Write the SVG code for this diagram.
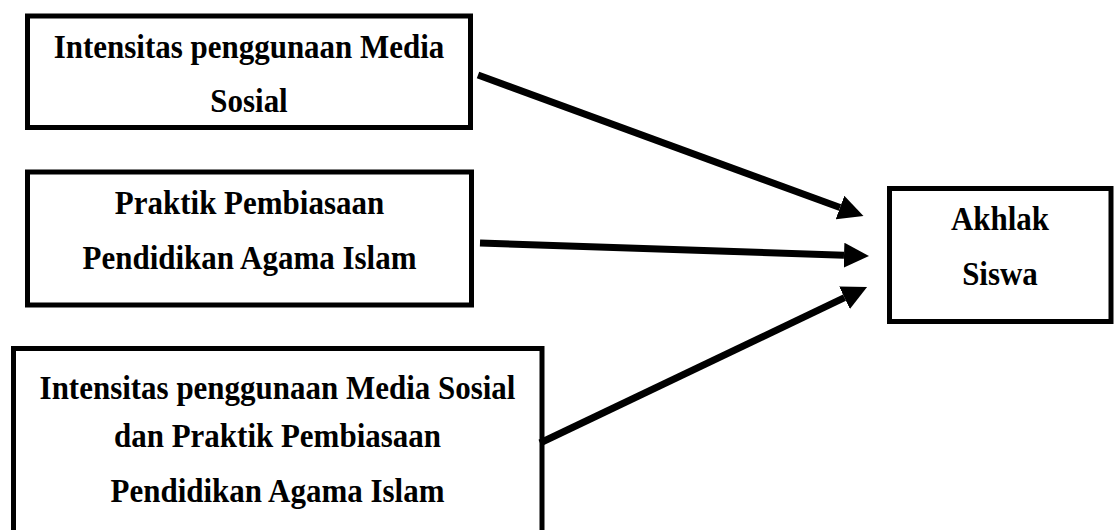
<svg xmlns="http://www.w3.org/2000/svg" width="1114" height="530" viewBox="0 0 1114 530">
  <style>
    .box { fill: #ffffff; stroke: #000000; stroke-width: 5; }
    .lbl { font-family: "Liberation Serif", "Times New Roman", serif; font-weight: bold; font-size: 33.5px; fill: #000000; text-anchor: middle; }
    .conn { stroke: #000000; stroke-width: 7; fill: none; marker-end: url(#head); }
  </style>
  <defs>
    <marker id="head" markerUnits="userSpaceOnUse" markerWidth="25" markerHeight="25" refX="0" refY="12.5" orient="auto">
      <path d="M0,0 L25,12.5 L0,25 z" fill="#000000"/>
    </marker>
  </defs>
  <rect width="1114" height="530" fill="#ffffff"/>
  <g id="node-intensitas">
    <rect class="box" x="27.5" y="16" width="443" height="111.5"/>
    <text class="lbl" transform="translate(249 58) scale(0.925 1)">Intensitas penggunaan Media</text>
    <text class="lbl" transform="translate(249 112) scale(0.925 1)">Sosial</text>
  </g>
  <g id="node-praktik">
    <rect class="box" x="27.5" y="172" width="444" height="133"/>
    <text class="lbl" transform="translate(249.5 214) scale(0.925 1)">Praktik Pembiasaan</text>
    <text class="lbl" transform="translate(249.5 269) scale(0.925 1)">Pendidikan Agama Islam</text>
  </g>
  <g id="node-gabungan">
    <rect class="box" x="13.5" y="348.5" width="528.5" height="200"/>
    <text class="lbl" transform="translate(277.5 399) scale(0.925 1)">Intensitas penggunaan Media Sosial</text>
    <text class="lbl" transform="translate(277.5 447) scale(0.925 1)">dan Praktik Pembiasaan</text>
    <text class="lbl" transform="translate(277.5 502) scale(0.925 1)">Pendidikan Agama Islam</text>
  </g>
  <g id="node-akhlak">
    <rect class="box" x="889.5" y="188.5" width="221.5" height="133"/>
    <text class="lbl" transform="translate(1000 230) scale(0.925 1)">Akhlak</text>
    <text class="lbl" transform="translate(1000 285) scale(0.925 1)">Siswa</text>
  </g>
  <g id="connectors">
    <line class="conn" x1="478" y1="75" x2="840" y2="207.5"/>
    <line class="conn" x1="480" y1="243" x2="844" y2="255.2"/>
    <line class="conn" x1="540" y1="443" x2="844.5" y2="297.7"/>
  </g>
</svg>
